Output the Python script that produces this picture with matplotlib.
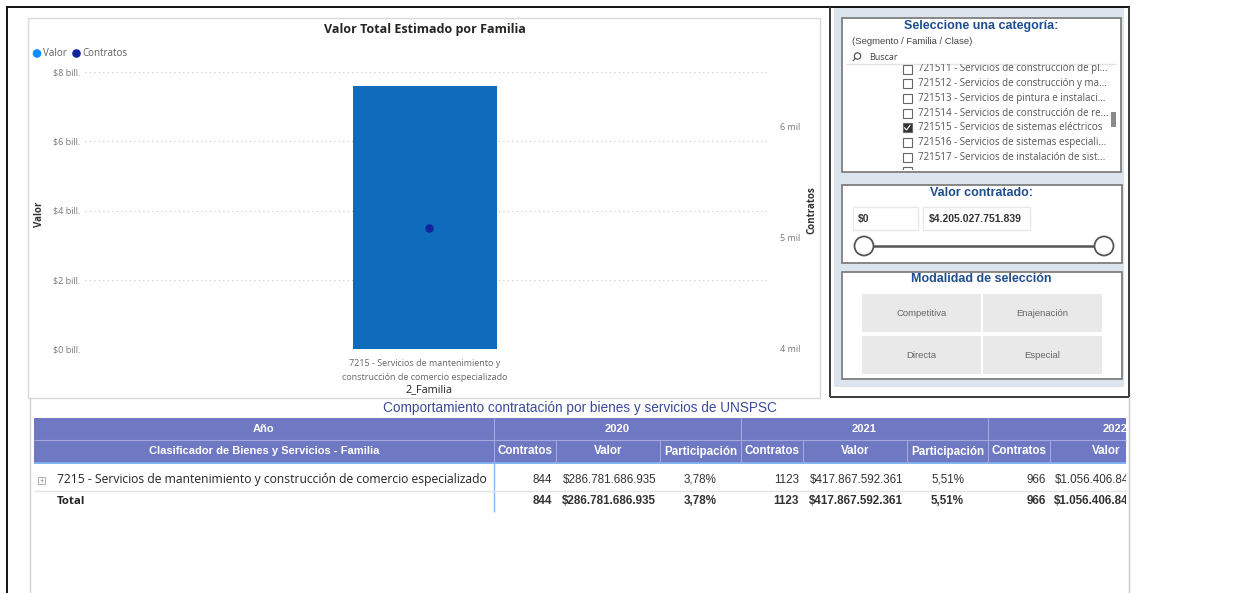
import matplotlib
matplotlib.use('Agg')
import matplotlib.pyplot as plt
from matplotlib.patches import Rectangle, Circle
import numpy as np

# ---------------- data ----------------
familias = ["7215 - Servicios de mantenimiento y construcción de comercio especializado"]
familia_tick = ["7215 - Servicios de mantenimiento y\nconstrucción de comercio especializado"]
valor_total = [7.59e12]
contratos_total = [5090]
valor_ticks = [0, 2e12, 4e12, 6e12, 8e12]
valor_tick_labels = ["$0 bill.", "$2 bill.", "$4 bill.", "$6 bill.", "$8 bill."]
contratos_ticks = [4000, 5000, 6000]
contratos_tick_labels = ["4 mil", "5 mil", "6 mil"]

anios = ["2020", "2021", "2022"]
contratos_anio = [844, 1123, 966]
valor_anio = [286781686935, 417867592361, 1056406840000]
participacion_anio = ["3,78%", "5,51%", None]
sub_cols = ["Contratos", "Valor", "Participación"]

categorias = [
    "721511 - Servicios de construcción de pl...",
    "721512 - Servicios de construcción y ma...",
    "721513 - Servicios de pintura e instalaci...",
    "721514 - Servicios de construcción de re...",
    "721515 - Servicios de sistemas eléctricos",
    "721516 - Servicios de sistemas especiali...",
    "721517 - Servicios de instalación de sist...",
    "",
]
categoria_sel = [False, False, False, False, True, False, False, False]
valor_min = "$0"
valor_max = "$4.205.027.751.839"
modalidades = ["Competitiva", "Enajenación", "Directa", "Especial"]

# ---------------- setup ----------------
SEGOE = ['Open Sans', 'DejaVu Sans']
ARIAL = ['Liberation Sans', 'DejaVu Sans']
plt.rcParams['font.family'] = ARIAL

W, H = 1253, 593
fig = plt.figure(figsize=(W / 100, H / 100), dpi=100)
fig.patch.set_facecolor('white')
bg = fig.add_axes([0, 0, 1, 1])
bg.set_xlim(0, W)
bg.set_ylim(H, 0)
bg.axis('off')


def rect(x0, y0, x1, y1, fc='none', ec='none', lw=1.0, z=1):
    p = Rectangle((x0, y0), x1 - x0, y1 - y0, facecolor=fc, edgecolor=ec, linewidth=lw, zorder=z)
    bg.add_patch(p)
    return p


def line(xs, ys, c='k', lw=1.0, z=2, **kw):
    bg.plot(xs, ys, color=c, lw=lw, zorder=z, solid_capstyle='butt', **kw)


def txt(x, y, s, size=7, color='#333333', ha='left', va='center', family=ARIAL, weight='normal', clip=None, **kw):
    t = bg.text(x, y, s, fontsize=size, color=color, ha=ha, va=va, family=family, fontweight=weight, zorder=5, **kw)
    if clip is not None:
        t.set_clip_on(True)
        t.set_clip_path(clip)
    return t


# ---------------- page frame ----------------
line([6, 1130], [7, 7], c='#111111', lw=1.4)
line([6.5, 6.5], [7, H], c='#111111', lw=1.4)

# ---------------- chart visual ----------------
rect(28, 18, 820, 398, ec='#d9d9d9', lw=1.0)
txt(425, 29, "Valor Total Estimado por Familia", size=9, color='#252423', ha='center', family=SEGOE, weight='bold')
bg.add_patch(Circle((37, 53.5), 3.6, color='#118DFF', zorder=5))
txt(43, 53.5, "Valor", size=7, color='#605e5c', family=SEGOE)
bg.add_patch(Circle((76.5, 53.5), 3.6, color='#12239E', zorder=5))
txt(82.5, 53.5, "Contratos", size=7, color='#605e5c', family=SEGOE)
txt(40, 214, "Valor", size=7, color='#333333', ha='center', family=SEGOE, weight='bold', rotation=90)
txt(812, 210, "Contratos", size=7, color='#333333', ha='center', family=SEGOE, weight='bold', rotation=90)
txt(429, 390, "2_Familia", size=7.8, color='#252423', ha='center', family=SEGOE)

X0, X1, YB, YT = 85, 769, 349, 72
ax = fig.add_axes([X0 / W, 1 - YB / H, (X1 - X0) / W, (YB - YT) / H])
ax.patch.set_alpha(0)
ax.set_xlim(-0.497, 0.503)
ax.set_ylim(0, 8e12)
ax.bar(np.arange(len(familias)), valor_total, width=0.21, color='#0f6cbd', zorder=2)
ax.set_yticks(valor_ticks)
ax.set_yticklabels(valor_tick_labels, fontsize=6.5, color='#777777', family=SEGOE)
ax.yaxis.grid(True, linestyle=(0, (1, 3)), color='#c8c8c8', lw=0.8)
ax.set_axisbelow(True)
ax.tick_params(axis='y', length=0, pad=3.5)
ax.set_xticks(np.arange(len(familias)))
ax.set_xticklabels(familia_tick, fontsize=6.5, color='#666666', family=SEGOE)
for lbl in ax.get_xticklabels():
    lbl.set_linespacing(1.75)
ax.tick_params(axis='x', length=0, pad=7)
for s in ax.spines.values():
    s.set_visible(False)

ax2 = ax.twinx()
ax2.set_ylim(4000, 6495)
ax2.scatter(np.arange(len(familias)) + 0.006, contratos_total, s=26, color='#12239E', zorder=4)
ax2.set_yticks(contratos_ticks)
ax2.set_yticklabels(contratos_tick_labels, fontsize=6.5, color='#777777', family=SEGOE)
ax2.tick_params(axis='y', length=0, pad=8)
for s in ax2.spines.values():
    s.set_visible(False)

# ---------------- right slicer panel ----------------
rect(834, 8, 1124, 387, fc='#dce4ed', z=1)
line([830, 830], [7, 397], c='#3a3a3a', lw=1.4)
line([1128.5, 1128.5], [7, 397], c='#3a3a3a', lw=1.4)
line([830, 1129], [397, 397], c='#3a3a3a', lw=1.4)

BLUE = '#1f4e8c'
# box 1: category list
rect(842, 18, 1121, 172, fc='white', ec='#7f7f7f', lw=1.3, z=2)
txt(981, 26, "Seleccione una categoría:", size=9, color=BLUE, ha='center', weight='bold')
txt(852, 42, "(Segmento / Familia / Clase)", size=6.8, color='#444444')
bg.add_patch(Circle((857.5, 56), 3.2, fill=False, ec='#444444', lw=0.8, zorder=5))
line([853, 855.3], [61, 58.3], c='#444444', lw=0.8, z=5)
txt(869, 57.5, "Buscar", size=6.5, color='#444444', family=SEGOE)
line([846, 1116], [63.5, 63.5], c='#e3e3e3', lw=1, z=3)
list_clip = Rectangle((843, 64), 277, 106, transform=bg.transData)
for i, (cat, sel) in enumerate(zip(categorias, categoria_sel)):
    yc = 69 + 14.7 * i
    cb = rect(902.5, yc - 4.5, 911.5, yc + 4.5, fc='#333333' if sel else 'white', ec='#666666', lw=0.8, z=4)
    cb.set_clip_path(list_clip)
    if sel:
        bg.plot([904.5, 906.5, 910], [yc, yc + 2.2, yc - 2.5], color='white', lw=0.8, zorder=5)
    if cat:
        txt(918, yc, cat, size=7, color='#555555', family=SEGOE, clip=list_clip)
rect(1111, 112, 1116, 127, fc='#8a8a8a', z=5)

# box 2: value slider
rect(842, 185, 1122, 263, fc='white', ec='#7f7f7f', lw=1.3, z=2)
txt(981, 192.5, "Valor contratado:", size=9, color=BLUE, ha='center', weight='bold')
rect(853, 207, 918, 230, fc='white', ec='#e8e8e8', lw=1, z=3)
rect(923, 207, 1030, 230, fc='white', ec='#e8e8e8', lw=1, z=3)
txt(858, 219, valor_min, size=7.5, color='#333333', weight='bold')
txt(929, 219, valor_max, size=7.5, color='#333333', weight='bold')
line([864, 1104], [246, 246], c='#555555', lw=1.8, z=3)
for cx in (864, 1104):
    bg.add_patch(Circle((cx, 246), 9.5, fc='white', ec='#555555', lw=1.3, zorder=4))

# box 3: selection mode buttons
rect(842, 272, 1122, 379, fc='white', ec='#7f7f7f', lw=1.3, z=2)
txt(981, 279.5, "Modalidad de selección", size=9, color=BLUE, ha='center', weight='bold')
btn_x = [(862, 981), (983, 1102)]
btn_y = [(294, 332), (336, 374)]
for k, m in enumerate(modalidades):
    (bx0, bx1), (by0, by1) = btn_x[k % 2], btn_y[k // 2]
    rect(bx0, by0, bx1, by1, fc='#e9e9e9', z=3)
    txt((bx0 + bx1) / 2, (by0 + by1) / 2, m, size=6.8, color='#666666', ha='center')

# ---------------- matrix table ----------------
line([30, 30], [398, H], c='#d0d0d0', lw=1)
line([1129, 1129], [397, H], c='#c8c8c8', lw=1)
txt(580, 408, "Comportamiento contratación por bienes y servicios de UNSPSC", size=9.8,
    color='#3b4a9e', ha='center')

TL, TR, TROW = 34, 1126, 494
HY0, HY1, HY2 = 418, 440, 463
COLWS = [[62, 104, 81], [62, 104, 81], [62, 112, 81]]
tclip = Rectangle((30, 398), TR - 30, H - 398, transform=bg.transData)
hdr = rect(TL, HY0, TR, HY2, fc='#6f78c2', z=2)
line([TL, TR], [HY1, HY1], c='#a3a9dc', lw=0.8, z=3)
line([TL, TR], [HY2, HY2], c='#7aaef0', lw=1.3, z=3)
line([TROW, TROW], [HY0, HY2], c='#a3a9dc', lw=0.8, z=3)
line([TROW, TROW], [HY2, 512], c='#8ab8ee', lw=1, z=3)
txt((TL + TROW) / 2, 429.5, "Año", size=8, color='white', ha='center', weight='bold')
txt((TL + TROW) / 2, 451.5, "Clasificador de Bienes y Servicios - Familia", size=8, color='white',
    ha='center', weight='bold')

gx = TROW
for i, anio in enumerate(anios):
    COLW = COLWS[i]
    GW = sum(COLW)
    if gx + GW < TR:
        line([gx + GW, gx + GW], [HY0, HY2], c='#a3a9dc', lw=0.8, z=3)
    txt(gx + GW / 2, 429.5, anio, size=8, color='white', ha='center', weight='bold', clip=tclip)
    cx = gx
    for j, sc in enumerate(sub_cols):
        if j > 0 and cx < TR:
            line([cx, cx], [HY1, HY2], c='#a3a9dc', lw=0.8, z=3)
        txt(cx + COLW[j] / 2, 451.5, sc, size=8.4, color='white', ha='center', weight='bold', clip=tclip)
        cx += COLW[j]
    vals = [str(contratos_anio[i]), "$" + f"{valor_anio[i]:,}".replace(",", "."), participacion_anio[i]]
    for row_y, wt in ((480, 'normal'), (501, 'bold')):
        txt(gx + COLW[0] - 4, row_y, vals[0], size=8.4, color='#333333', ha='right', weight=wt, clip=tclip)
        txt(gx + COLW[0] + COLW[1] - 4, row_y, vals[1], size=8.4, color='#333333', ha='right', weight=wt,
            clip=tclip)
        if vals[2] is not None:
            txt(gx + COLW[0] + COLW[1] + COLW[2] / 2, row_y, vals[2], size=8.4, color='#333333',
                ha='center', weight=wt, clip=tclip)
    gx += GW

line([TL, TR], [491, 491], c='#e4e4e4', lw=1, z=3)
rect(38, 476.5, 45, 483.5, fc='white', ec='#a0a0a0', lw=0.6, z=4)
line([39.8, 43.2], [480, 480], c='#a0a0a0', lw=0.6, z=5)
line([41.5, 41.5], [478.3, 481.7], c='#a0a0a0', lw=0.6, z=5)
txt(57, 480, familias[0], size=8.7, color='#252423', family=SEGOE)
txt(57, 501, "Total", size=8.2, color='#252423', family=SEGOE, weight='bold')

fig.savefig('out.png', dpi=100, facecolor='white')
